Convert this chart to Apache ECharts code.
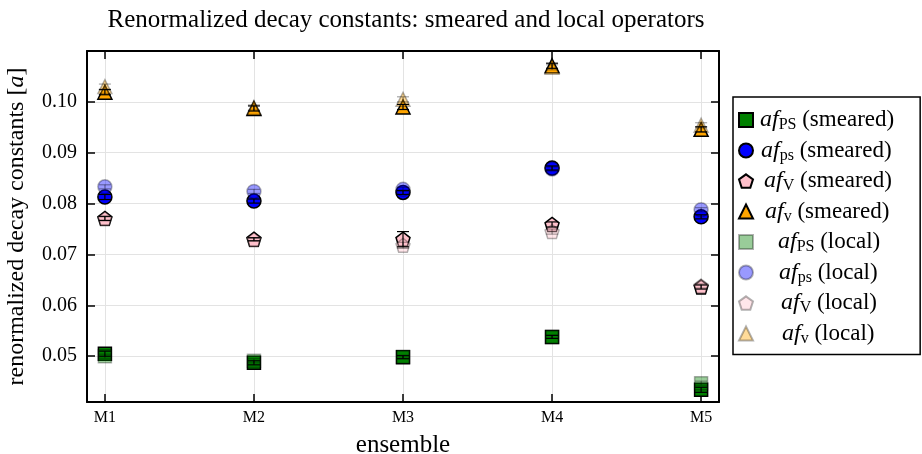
<!DOCTYPE html>
<html>
<head>
<meta charset="utf-8">
<script src="https://cdn.jsdelivr.net/npm/echarts@6/dist/echarts.min.js"></script>
<style>html,body{margin:0;padding:0;background:#fff;}#c{width:922px;height:454px;}</style>
</head>
<body>
<div id="c"></div>
<script>
// ---- data ----
const ensembles = ['M1', 'M2', 'M3', 'M4', 'M5'];
const ensembleX = [1, 2, 3, 4, 5];
const yTicks = [0.05, 0.06, 0.07, 0.08, 0.09, 0.10];

const smearedPS = [0.0505, 0.0487, 0.0498, 0.0538, 0.0434];
const smearedPSErr = [0.0005, 0.0004, 0.0003, 0.0003, 0.0005];
const smearedps = [0.0813, 0.0805, 0.0822, 0.0870, 0.0774];
const smearedpsErr = [0.0005, 0.0004, 0.0004, 0.0004, 0.0004];
const smearedV = [0.0771, 0.0730, 0.0730, 0.0759, 0.0636];
const smearedVErr = [0.0004, 0.0003, 0.0015, 0.0005, 0.0004];
const smearedv = [0.1019, 0.0987, 0.0990, 0.1071, 0.0946];
const smearedvErr = [0.0005, 0.0005, 0.0005, 0.0005, 0.0005];

const localPS = [0.0500, 0.0491, 0.0499, 0.0538, 0.0447];
const localPSErr = [0.0004, 0.0004, 0.0003, 0.0003, 0.0004];
const localps = [0.0833, 0.0824, 0.0828, 0.0868, 0.0788];
const localpsErr = [0.0004, 0.0004, 0.0004, 0.0004, 0.0004];
const localV = [0.0770, 0.0729, 0.0718, 0.0745, 0.0638];
const localVErr = [0.0004, 0.0003, 0.0006, 0.0005, 0.0004];
const localv = [0.1030, 0.0989, 0.1005, 0.1068, 0.0954];
const localvErr = [0.0005, 0.0005, 0.0005, 0.0005, 0.0005];

// ---- styling ----
const FONT = 'Liberation Serif';
const pentagon = 'path://M0,-10 L9.51,-3.09 L5.88,8.09 L-5.88,8.09 L-9.51,-3.09 Z';

const seriesDefs = [
  {name: 'PS smeared', vals: smearedPS, err: smearedPSErr, symbol: 'rect', size: 13, color: '#008000', border: '#000', label: '{p2| }{it|af}{sub|PS}{n| (smeared)}'},
  {name: 'ps smeared', vals: smearedps, err: smearedpsErr, symbol: 'circle', size: 14, color: '#0000ff', border: '#000', label: '{p3| }{it|af}{sub|ps}{n| (smeared)}'},
  {name: 'V smeared', vals: smearedV, err: smearedVErr, symbol: pentagon, size: 14, color: '#ffc0cb', border: '#000', label: '{p6| }{it|af}{sub|V}{n| (smeared)}'},
  {name: 'v smeared', vals: smearedv, err: smearedvErr, symbol: 'triangle', size: 14, color: '#ffa500', border: '#000', label: '{p7| }{it|af}{sub|v}{n| (smeared)}'},
  {name: 'PS local', vals: localPS, err: localPSErr, symbol: 'rect', size: 13, color: 'rgba(0,128,0,0.4)', border: 'rgba(0,0,0,0.3)', label: '{p20| }{it|af}{sub|PS}{n| (local)}'},
  {name: 'ps local', vals: localps, err: localpsErr, symbol: 'circle', size: 14, color: 'rgba(0,0,255,0.4)', border: 'rgba(0,0,0,0.3)', label: '{p21| }{it|af}{sub|ps}{n| (local)}'},
  {name: 'V local', vals: localV, err: localVErr, symbol: pentagon, size: 14, color: 'rgba(255,192,203,0.4)', border: 'rgba(0,0,0,0.3)', label: '{p23| }{it|af}{sub|V}{n| (local)}'},
  {name: 'v local', vals: localv, err: localvErr, symbol: 'triangle', size: 14, color: 'rgba(255,165,0,0.4)', border: 'rgba(0,0,0,0.3)', label: '{p24| }{it|af}{sub|v}{n| (local)}'}
];

const labelMap = {};
seriesDefs.forEach(d => labelMap[d.name] = d.label);

const series = [];
seriesDefs.forEach((d, k) => {
  series.push({
    type: 'scatter', name: d.name, xAxisIndex: 0, yAxisIndex: 0,
    symbol: d.symbol, symbolSize: d.size,
    itemStyle: {color: d.color, borderColor: d.border, borderWidth: 1.5, opacity: 1},
    z: k < 4 ? 2 : 3,
    data: ensembleX.map((x, i) => [x, d.vals[i]])
  });
});
seriesDefs.forEach((d, k) => {
  const col = k < 4 ? '#000' : 'rgba(0,0,0,0.35)';
  series.push({
    type: 'custom', name: d.name + ' err', xAxisIndex: 0, yAxisIndex: 0, z: 4,
    silent: true,
    renderItem: function (params, api) {
      const x = api.value(0), y = api.value(1), e = api.value(2);
      const lo = api.coord([x, y - e]), hi = api.coord([x, y + e]);
      const w = 6;
      return {type: 'group', children: [
        {type: 'line', shape: {x1: lo[0], y1: lo[1], x2: hi[0], y2: hi[1]}, style: {stroke: col, lineWidth: 1.2}},
        {type: 'line', shape: {x1: lo[0] - w, y1: lo[1], x2: lo[0] + w, y2: lo[1]}, style: {stroke: col, lineWidth: 1.2}},
        {type: 'line', shape: {x1: hi[0] - w, y1: hi[1], x2: hi[0] + w, y2: hi[1]}, style: {stroke: col, lineWidth: 1.2}}
      ]};
    },
    encode: {x: 0, y: 1},
    data: ensembleX.map((x, i) => [x, d.vals[i], d.err[i]])
  });
});

const tickStyle = {show: true, inside: true, length: 8, lineStyle: {color: '#000', width: 1.5}};
const lineStyle = {show: true, onZero: false, lineStyle: {color: '#000', width: 2}};
const gridLine = {show: true, lineStyle: {color: '#e3e3e3', width: 1}};

const padStyle = w => ({width: w, fontSize: 23, lineHeight: 26});

const option = {
  animation: false,
  backgroundColor: '#fff',
  title: {
    text: 'Renormalized decay constants: smeared and local operators',
    left: 401, top: 3, textAlign: 'center',
    textStyle: {fontFamily: FONT, fontSize: 25, fontWeight: 'normal', color: '#000'}
  },
  grid: {left: 87, right: 203, top: 51, bottom: 52, containLabel: false, outerBoundsMode: 'none'},
  legend: {
    orient: 'vertical', left: 733, top: 97,
    data: seriesDefs.map(d => d.name),
    backgroundColor: '#fff', borderColor: '#000', borderWidth: 1.5, borderRadius: 0,
    padding: [10, 26, 8, 5], itemGap: 4.5, itemWidth: 14, itemHeight: 14,
    selectedMode: false,
    formatter: name => labelMap[name],
    textStyle: {
      fontFamily: FONT, fontSize: 23, color: '#000', lineHeight: 26,
      rich: {
        it: {fontFamily: FONT, fontStyle: 'italic', fontSize: 24, lineHeight: 26, verticalAlign: 'middle'},
        sub: {fontFamily: FONT, fontSize: 16, lineHeight: 15, verticalAlign: 'bottom'},
        n: {fontFamily: FONT, fontSize: 23, lineHeight: 26, verticalAlign: 'middle'},
        p2: padStyle(2), p3: padStyle(3), p6: padStyle(6), p7: padStyle(7),
        p20: padStyle(20), p21: padStyle(21), p23: padStyle(23), p24: padStyle(24)
      }
    }
  },
  xAxis: [
    {
      type: 'value', position: 'bottom', min: 0.88, max: 5.12,
      name: 'ensemble', nameLocation: 'middle', nameGap: 31,
      nameTextStyle: {fontFamily: FONT, fontSize: 25, color: '#000'},
      axisLine: lineStyle,
      axisTick: Object.assign({customValues: ensembleX}, tickStyle),
      axisLabel: {customValues: ensembleX, margin: 8, fontFamily: FONT, fontSize: 16, color: '#000',
        formatter: v => ensembles[Math.round(v) - 1]},
      splitLine: gridLine
    },
    {
      type: 'value', position: 'top', min: 0.88, max: 5.12,
      axisLine: lineStyle,
      axisTick: Object.assign({customValues: ensembleX}, tickStyle),
      axisLabel: {show: false}, splitLine: {show: false}
    }
  ],
  yAxis: [
    {
      type: 'value', position: 'left', min: 0.041, max: 0.110,
      name: 'renormalized decay constants [{i|a}]', nameLocation: 'middle', nameGap: 58, nameRotate: 90,
      nameTextStyle: {fontFamily: FONT, fontSize: 24, color: '#000',
        rich: {i: {fontFamily: FONT, fontSize: 24, fontStyle: 'italic'}}},
      axisLine: lineStyle,
      axisTick: Object.assign({customValues: yTicks}, tickStyle),
      axisLabel: {customValues: yTicks, margin: 10, fontFamily: FONT, fontSize: 20, color: '#000',
        formatter: v => v.toFixed(2)},
      splitLine: gridLine
    },
    {
      type: 'value', position: 'right', min: 0.041, max: 0.110,
      axisLine: lineStyle,
      axisTick: Object.assign({customValues: yTicks}, tickStyle),
      axisLabel: {show: false}, splitLine: {show: false}
    }
  ],
  series: series
};

const chart = echarts.init(document.getElementById('c'), null, {renderer: 'canvas'});
chart.setOption(option);
</script>
</body>
</html>
